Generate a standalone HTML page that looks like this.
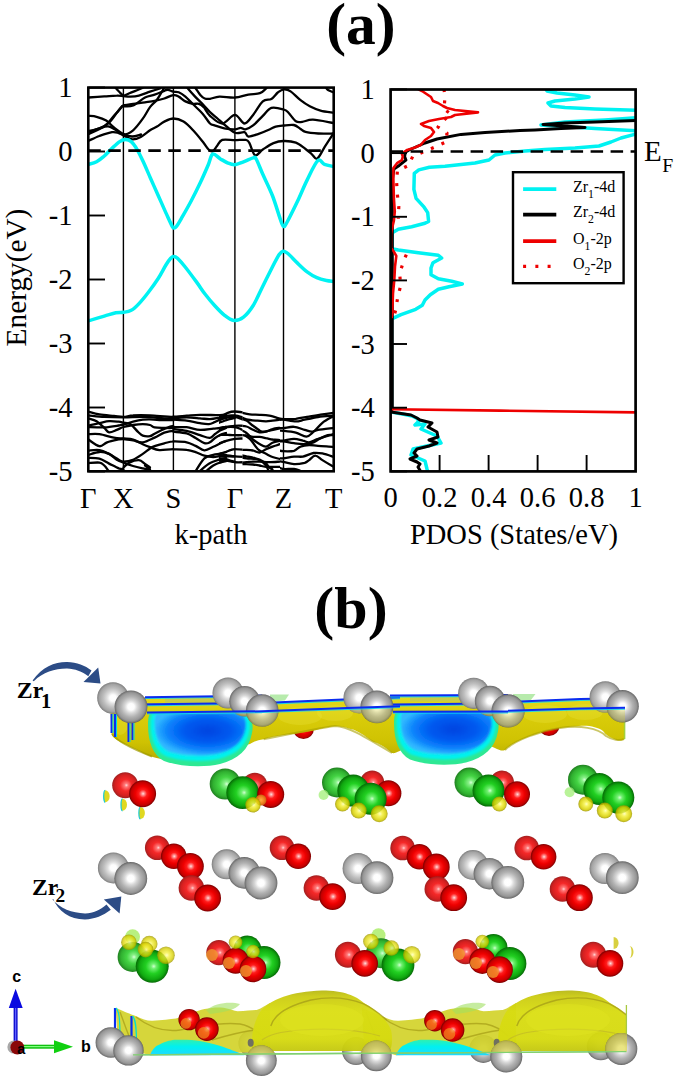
<!DOCTYPE html>
<html><head><meta charset="utf-8"><title>Figure</title>
<style>
html,body{margin:0;padding:0;background:#fff;}
body{width:675px;height:1077px;overflow:hidden;position:relative;}
svg{position:absolute;left:0;top:0;display:block;}
text{font-family:"Liberation Serif",serif;}
.sans{font-family:"Liberation Sans",sans-serif;}
</style></head><body>
<svg width="675" height="1077" viewBox="0 0 675 1077">
<text x="361" y="44" font-size="59.5" font-weight="bold" text-anchor="middle">(a)</text>
<defs><clipPath id="cl"><rect x="88.3" y="87.6" width="245.4" height="383.7"/></clipPath><clipPath id="cr"><rect x="390.6" y="89.5" width="245.0" height="381.9"/></clipPath></defs>
<g clip-path="url(#cl)" fill="none" stroke-linejoin="round" stroke-linecap="round">
<line x1="123.4" y1="87.6" x2="123.4" y2="471.3" stroke="#000" stroke-width="1.4"/><line x1="173.4" y1="87.6" x2="173.4" y2="471.3" stroke="#000" stroke-width="1.4"/><line x1="234.9" y1="87.6" x2="234.9" y2="471.3" stroke="#000" stroke-width="1.4"/><line x1="283.5" y1="87.6" x2="283.5" y2="471.3" stroke="#000" stroke-width="1.4"/><path d="M88.3,140.9 C90.2,140.1 95.5,137.4 99.4,136.0 C103.4,134.6 108.8,132.7 112.0,132.2 C115.2,131.7 116.8,132.6 118.7,133.1 C120.6,133.6 121.2,134.3 123.5,135.4 C125.8,136.5 129.3,139.1 132.2,139.4 C135.1,139.7 137.8,138.5 140.8,137.0 C143.8,135.5 147.3,132.1 150.0,130.3 C152.7,128.6 154.6,128.0 157.0,126.5 C159.4,125.0 161.6,122.9 164.3,121.6 C167.0,120.3 170.2,118.5 173.4,118.5 C176.6,118.5 180.2,119.6 183.5,121.6 C186.8,123.6 189.9,126.9 193.1,130.3 C196.3,133.7 200.2,138.6 202.8,141.8 C205.4,145.0 206.9,147.9 208.6,149.5 C210.2,151.1 211.3,151.9 212.7,151.3 C214.1,150.7 215.4,147.9 217.0,146.0 C218.6,144.1 219.3,140.9 222.3,139.9 C225.3,138.9 231.1,140.2 234.9,140.2 C238.8,140.2 243.0,139.5 245.4,139.9 C247.8,140.3 247.7,140.2 249.3,142.8 C250.9,145.4 252.8,154.2 255.1,155.3 C257.4,156.4 259.7,151.5 262.8,149.5 C265.9,147.5 270.0,144.5 273.5,143.1 C277.0,141.7 280.0,141.1 283.7,141.0 C287.4,140.9 292.3,141.3 295.9,142.6 C299.5,143.9 302.8,147.1 305.5,149.0 C308.2,150.9 309.9,152.7 311.9,154.3 C313.9,155.9 315.2,159.8 317.3,158.6 C319.4,157.4 322.0,151.2 324.7,146.9 C327.4,142.6 332.2,135.3 333.7,133.0" stroke="#000" stroke-width="2.3"/><path d="M88.3,132.2 C90.2,131.5 96.1,129.3 99.4,128.3 C102.7,127.3 105.5,126.2 108.1,126.4 C110.7,126.6 112.4,128.2 115.0,129.5 C117.6,130.8 120.5,134.4 123.5,134.5 C126.5,134.6 129.9,132.9 133.1,130.3 C136.3,127.7 140.0,122.6 142.8,118.7 C145.6,114.8 147.8,110.0 150.0,107.1 C152.2,104.1 154.3,103.0 156.0,101.0 C157.7,99.0 158.7,97.2 160.0,95.0 C161.3,92.8 163.3,89.2 164.0,88.0" stroke="#000" stroke-width="2.3"/><path d="M88.3,115.8 C89.7,116.0 93.6,116.0 96.6,116.8 C99.6,117.6 103.3,118.8 106.2,120.6 C109.1,122.4 111.0,125.2 113.9,127.4 C116.8,129.6 120.5,132.5 123.5,134.0 C126.5,135.5 129.1,136.4 132.0,136.5 C134.9,136.6 139.5,134.8 141.0,134.5" stroke="#000" stroke-width="2.3"/><path d="M88.3,131.2 C90.2,130.7 95.9,129.7 99.4,128.3 C102.9,126.9 106.2,125.2 109.1,122.6 C112.0,120.0 114.7,115.6 116.8,112.9 C118.9,110.2 120.5,108.0 121.6,106.7 C122.7,105.5 121.6,105.9 123.5,105.4 C125.4,104.9 129.5,104.3 133.1,103.8 C136.7,103.3 141.4,102.8 145.0,102.3 C148.6,101.8 151.4,101.5 154.6,100.9 C157.8,100.3 161.2,99.5 164.3,98.5 C167.4,97.5 171.0,95.4 173.4,95.1 C175.8,94.8 176.7,95.5 178.7,96.6 C180.7,97.6 183.0,100.2 185.4,101.4 C187.8,102.6 190.8,103.4 193.1,103.8 C195.3,104.2 197.1,103.2 198.9,103.8 C200.7,104.3 201.8,105.1 203.7,107.1 C205.5,109.1 206.9,113.1 210.0,115.8 C213.1,118.5 218.2,123.7 222.3,123.5 C226.5,123.3 231.2,114.9 234.9,114.9 C238.6,114.9 241.5,123.5 244.5,123.5 C247.5,123.5 250.0,118.6 253.1,114.9 C256.1,111.2 259.8,104.1 262.8,101.4 C265.9,98.7 268.9,100.4 271.4,98.9 C273.9,97.4 275.8,94.1 277.8,92.5 C279.9,90.9 281.6,89.5 283.7,89.3 C285.8,89.1 287.9,89.6 290.6,91.4 C293.4,93.2 297.0,97.4 300.2,99.9 C303.4,102.4 306.4,104.5 309.8,106.3 C313.2,108.1 316.5,109.5 320.5,110.6 C324.5,111.7 331.5,112.5 333.7,112.9" stroke="#000" stroke-width="2.3"/><path d="M88.3,134.1 C91.0,132.8 100.0,129.5 104.3,126.4 C108.6,123.4 111.0,119.0 113.9,115.8 C116.8,112.6 120.0,108.7 121.6,107.1 C123.2,105.5 121.6,106.7 123.5,106.4 C125.4,106.1 129.5,107.0 133.1,105.5 C136.7,104.0 141.4,99.3 145.0,97.5 C148.6,95.7 151.4,95.7 154.6,94.6 C157.8,93.5 162.1,91.6 164.3,90.8 C166.6,90.0 166.6,89.6 168.1,89.8 C169.6,90.0 171.6,91.3 173.4,91.7 C175.2,92.1 176.7,91.4 178.7,92.2 C180.7,93.0 183.0,94.6 185.4,96.6 C187.8,98.6 190.2,101.4 193.1,104.3 C196.0,107.2 200.0,110.7 202.8,113.9 C205.6,117.1 208.0,121.6 210.0,123.5 C212.0,125.4 212.2,124.6 214.6,125.4 C217.0,126.2 220.9,127.7 224.3,128.3 C227.7,129.0 232.2,129.4 234.9,129.3 C237.6,129.2 238.8,127.9 240.6,127.9 C242.3,127.9 243.3,129.7 245.4,129.3 C247.5,128.9 250.2,127.7 253.1,125.4 C256.0,123.2 259.8,118.7 262.8,115.8 C265.9,112.9 267.9,109.0 271.4,107.9 C274.9,106.9 280.8,108.7 283.7,109.5 C286.6,110.3 286.5,110.7 288.5,112.7 C290.5,114.7 293.6,119.8 295.9,121.3 C298.2,122.8 299.4,122.1 302.3,121.8 C305.2,121.5 307.8,119.5 313.0,119.7 C318.2,119.9 330.2,122.5 333.7,123.0" stroke="#000" stroke-width="2.3"/><path d="M88.3,97.5 C91.0,97.3 99.5,96.7 104.3,96.4 C109.0,96.1 113.6,95.6 116.8,95.6 C120.0,95.5 121.2,95.9 123.5,96.1 C125.8,96.3 127.7,96.7 130.3,96.6 C132.9,96.5 135.6,96.4 138.9,95.6 C142.2,94.8 146.5,92.9 150.0,91.7 C153.5,90.5 158.3,89.0 160.0,88.5" stroke="#000" stroke-width="2.3"/><path d="M114.0,86.0 C114.8,86.8 116.9,89.4 118.5,91.0 C120.1,92.6 121.6,95.2 123.5,95.5 C125.4,95.8 127.2,94.1 130.0,93.0 C132.8,91.9 137.3,90.2 140.0,89.0 C142.7,87.8 145.0,86.5 146.0,86.0" stroke="#000" stroke-width="2.3"/><path d="M186.0,86.0 C186.4,86.5 186.8,87.1 188.3,88.9 C189.8,90.7 192.7,94.0 195.1,96.6 C197.5,99.2 200.3,101.7 202.8,104.3 C205.3,106.9 207.6,109.6 210.0,112.0 C212.4,114.4 215.1,116.4 217.5,118.5 C219.9,120.6 221.4,122.1 224.3,124.5 C227.2,126.9 231.5,131.4 234.9,132.7 C238.3,134.0 242.3,131.6 244.5,132.2 C246.7,132.8 246.1,136.2 248.3,136.5 C250.6,136.8 254.4,135.3 258.0,134.1 C261.6,132.9 267.1,130.6 270.0,129.3 C272.9,128.1 273.4,127.2 275.7,126.6 C278.0,126.0 280.7,125.8 283.7,125.5 C286.7,125.2 291.1,124.5 293.8,125.0 C296.6,125.5 298.2,127.5 300.2,128.7 C302.1,129.8 302.5,131.1 305.5,131.9 C308.5,132.7 313.6,133.2 318.3,133.5 C323.0,133.8 331.1,133.5 333.7,133.5" stroke="#000" stroke-width="2.3"/><path d="M194.0,86.0 C194.3,86.5 194.9,87.3 196.0,88.9 C197.1,90.5 199.4,94.0 200.8,95.6 C202.2,97.2 203.2,98.0 204.7,98.5 C206.2,99.0 207.6,99.1 210.0,98.8 C212.4,98.5 215.2,96.8 219.4,96.6 C223.6,96.4 230.1,97.8 234.9,97.5 C239.7,97.2 244.1,95.3 248.3,94.6 C252.5,93.9 257.0,94.2 259.9,93.2 C262.8,92.2 264.3,90.1 265.7,88.9 C267.1,87.7 267.6,86.5 268.0,86.0" stroke="#000" stroke-width="2.3"/><path d="M326.0,87.5 C326.3,87.9 326.7,89.2 328.0,90.0 C329.3,90.8 332.8,92.1 333.7,92.5" stroke="#000" stroke-width="2.3"/><path d="M170.0,86.0 C170.6,86.2 172.4,87.5 173.4,87.5 C174.4,87.5 175.6,86.2 176.0,86.0" stroke="#000" stroke-width="2.3"/>
<defs><clipPath id="clL"><rect x="80" y="80" width="94.2" height="400"/></clipPath><clipPath id="clR"><rect x="219" y="80" width="200" height="400"/></clipPath></defs><g clip-path="url(#clL)"><path d="M88.3,411.6 C90.2,412.1 95.1,413.7 99.4,414.4 C103.7,415.1 109.9,415.5 113.9,415.9 C117.9,416.3 120.3,417.0 123.5,416.9 C126.7,416.8 128.7,415.6 133.1,415.4 C137.5,415.1 143.3,415.1 150.0,415.4 C156.7,415.6 166.2,416.9 173.4,416.9 C180.6,416.9 187.0,415.6 193.1,415.4 C199.2,415.1 205.6,415.3 210.0,415.4 C214.4,415.5 216.6,416.4 219.4,415.9 C222.2,415.4 224.5,413.3 227.1,412.5 C229.7,411.7 232.2,411.1 234.9,411.1 C237.6,411.1 240.5,412.0 243.5,412.5 C246.5,413.0 249.5,413.4 253.1,414.0 C256.7,414.6 261.2,415.4 265.0,416.0 C268.8,416.6 272.6,417.1 275.7,417.6 C278.8,418.1 281.0,419.0 283.7,419.2 C286.4,419.4 287.7,419.2 291.7,418.7 C295.7,418.2 303.3,416.7 307.7,416.0 C312.1,415.3 314.0,414.8 318.3,414.4 C322.6,413.9 331.1,413.5 333.7,413.3" stroke="#000" stroke-width="2.3"/><path d="M88.3,415.4 C91.0,415.6 98.4,416.6 104.3,416.9 C110.2,417.2 116.7,417.3 123.5,417.3 C130.3,417.3 138.2,416.7 145.0,416.9 C151.8,417.1 159.6,418.1 164.3,418.3 C169.0,418.5 169.4,417.9 173.4,417.8 C177.4,417.7 182.2,417.9 188.3,417.8 C194.4,417.7 204.0,417.3 210.0,417.3 C216.0,417.3 220.2,418.0 224.3,417.8 C228.5,417.6 231.7,416.0 234.9,415.9 C238.1,415.8 240.5,416.5 243.5,417.3 C246.5,418.1 249.5,419.9 253.1,420.7 C256.7,421.5 261.2,421.7 265.0,421.9 C268.8,422.1 272.6,422.3 275.7,421.9 C278.8,421.5 280.3,419.7 283.7,419.7 C287.1,419.7 291.9,422.1 295.9,421.9 C299.9,421.7 304.0,419.5 307.7,418.7 C311.4,417.9 314.0,417.6 318.3,417.1 C322.6,416.7 331.1,416.2 333.7,416.0" stroke="#000" stroke-width="2.3"/><path d="M88.3,418.3 C89.7,418.8 93.9,419.6 96.6,421.2 C99.3,422.8 102.2,426.0 104.3,427.9 C106.4,429.8 107.0,432.0 109.1,432.3 C111.2,432.6 114.4,430.8 116.8,429.9 C119.2,429.0 120.8,427.8 123.5,427.0 C126.2,426.2 129.9,425.5 133.1,425.0 C136.3,424.5 140.0,424.1 142.8,424.1 C145.6,424.1 148.0,424.4 150.0,425.0 C152.0,425.6 152.2,426.9 154.6,427.4 C157.0,427.9 161.2,427.8 164.3,427.9 C167.4,428.0 170.2,428.2 173.4,427.9 C176.6,427.6 179.4,426.6 183.5,426.0 C187.6,425.4 193.6,424.6 198.0,424.1 C202.4,423.6 207.2,423.6 210.0,423.1 C212.8,422.6 212.2,422.1 214.6,421.2 C217.0,420.3 220.9,418.7 224.3,417.8 C227.7,416.9 231.7,415.6 234.9,415.9 C238.1,416.1 240.5,417.6 243.5,419.3 C246.5,421.0 250.2,423.9 253.1,426.0 C256.0,428.1 258.0,431.0 260.8,431.8 C263.6,432.6 267.5,431.1 270.0,430.8 C272.5,430.5 273.4,430.0 275.7,429.9 C278.0,429.8 280.1,430.0 283.7,430.4 C287.2,430.8 293.0,431.0 297.0,432.0 C301.0,433.0 304.1,437.0 307.7,436.3 C311.2,435.6 314.0,430.7 318.3,427.7 C322.6,424.7 331.1,419.7 333.7,418.1" stroke="#000" stroke-width="2.3"/><path d="M88.3,425.5 C90.2,425.1 95.9,423.8 99.4,423.1 C102.9,422.4 105.9,421.4 109.1,421.2 C112.3,421.0 116.3,421.5 118.7,421.7 C121.1,421.9 121.6,422.2 123.5,422.6 C125.4,423.0 127.9,422.6 130.3,424.1 C132.7,425.6 135.9,429.9 138.0,431.8 C140.1,433.7 140.8,434.9 142.8,435.6 C144.8,436.3 148.0,436.4 150.0,436.1 C152.0,435.8 152.2,434.9 154.6,433.7 C157.0,432.5 161.2,430.2 164.3,428.9 C167.4,427.6 170.2,426.2 173.4,426.0 C176.6,425.8 180.2,427.4 183.5,427.9 C186.8,428.4 189.9,428.6 193.1,428.9 C196.3,429.2 199.2,430.1 202.8,429.9 C206.4,429.7 211.0,428.5 214.6,427.9 C218.2,427.3 220.9,426.8 224.3,426.5 C227.7,426.2 231.4,426.0 234.9,426.0 C238.4,426.0 242.4,426.0 245.4,426.5 C248.4,427.0 250.2,428.1 253.1,428.9 C256.0,429.7 260.0,430.8 262.8,431.3 C265.6,431.8 267.9,432.2 270.0,431.8 C272.1,431.4 273.4,429.4 275.7,428.8 C278.0,428.2 280.7,428.6 283.7,428.3 C286.7,428.0 290.7,427.0 293.8,427.2 C296.9,427.4 299.5,428.5 302.3,429.3 C305.1,430.1 307.3,431.9 310.9,432.0 C314.5,432.1 319.9,430.5 323.7,429.9 C327.5,429.3 332.0,428.6 333.7,428.3" stroke="#000" stroke-width="2.3"/><path d="M88.3,427.0 C91.0,427.1 99.2,427.6 104.3,427.4 C109.4,427.1 115.5,426.0 118.7,425.5 C121.9,425.0 121.1,425.2 123.5,424.6 C125.9,424.0 129.9,422.5 133.1,421.7 C136.3,420.9 140.0,420.1 142.8,419.7 C145.6,419.3 147.2,419.2 150.0,419.3 C152.8,419.4 155.5,420.1 159.4,420.2 C163.3,420.3 168.6,419.9 173.4,420.2 C178.2,420.4 183.4,421.2 188.3,421.7 C193.2,422.2 198.4,423.2 202.8,423.1 C207.2,423.0 212.6,421.5 214.6,421.2" stroke="#000" stroke-width="2.3"/><path d="M88.3,434.2 C90.2,434.2 95.1,433.6 99.4,434.2 C103.7,434.8 109.9,436.9 113.9,437.6 C117.9,438.3 120.3,438.2 123.5,438.5 C126.7,438.8 129.9,438.5 133.1,439.5 C136.3,440.5 140.0,443.0 142.8,444.3 C145.6,445.6 147.2,446.2 150.0,447.2 C152.8,448.2 155.5,449.8 159.4,450.1 C163.3,450.4 168.6,449.1 173.4,449.1 C178.2,449.1 184.2,449.5 188.3,450.1 C192.4,450.8 194.4,451.7 198.0,453.0 C201.6,454.3 206.4,457.7 210.0,457.8 C213.6,457.9 215.2,455.2 219.4,453.9 C223.6,452.6 230.1,450.7 234.9,450.1 C239.7,449.5 243.7,449.8 248.3,450.1 C253.0,450.4 259.2,451.6 262.8,452.0 C266.4,452.4 268.8,452.4 270.0,452.5" stroke="#000" stroke-width="2.3"/><path d="M88.3,439.5 C90.2,440.6 96.3,445.7 99.4,446.2 C102.5,446.7 103.9,443.5 107.1,442.4 C110.3,441.3 116.0,440.1 118.7,439.5 C121.4,438.9 121.1,438.9 123.5,439.0 C125.9,439.1 129.9,439.8 133.1,440.4 C136.3,441.0 139.2,442.9 142.8,442.4 C146.4,441.9 151.0,439.2 154.6,437.6 C158.2,436.0 161.2,433.8 164.3,432.7 C167.4,431.6 170.2,430.8 173.4,430.8 C176.6,430.8 180.2,431.7 183.5,432.7 C186.8,433.7 189.9,435.0 193.1,436.6 C196.3,438.2 199.2,442.1 202.8,442.4 C206.4,442.7 211.0,439.6 214.6,438.5 C218.2,437.4 220.9,436.2 224.3,435.6 C227.7,435.0 231.4,434.8 234.9,434.7 C238.4,434.6 241.6,434.6 245.4,435.1 C249.2,435.6 254.7,437.1 258.0,437.6 C261.3,438.2 262.1,438.1 265.0,438.4 C267.9,438.7 272.6,439.1 275.7,439.5 C278.8,439.9 280.5,440.5 283.7,440.5 C286.9,440.5 291.3,439.3 294.9,439.5 C298.5,439.7 301.9,440.9 305.5,441.6 C309.1,442.3 311.5,444.9 316.2,443.7 C320.9,442.4 330.8,435.7 333.7,434.1" stroke="#000" stroke-width="2.3"/><path d="M88.3,450.6 C90.2,450.5 95.9,449.5 99.4,450.1 C102.9,450.7 105.9,452.4 109.1,454.0 C112.3,455.6 116.3,458.4 118.7,459.7 C121.1,461.0 121.1,461.6 123.5,461.6 C125.9,461.6 129.9,461.0 133.1,459.7 C136.3,458.4 140.0,455.8 142.8,453.9 C145.6,452.0 148.0,449.8 150.0,448.5 C152.0,447.2 152.2,447.1 154.6,446.2 C157.0,445.3 161.2,444.1 164.3,443.3 C167.4,442.5 170.2,441.5 173.4,441.4 C176.6,441.2 180.2,441.6 183.5,442.4 C186.8,443.2 189.9,444.9 193.1,446.2 C196.3,447.5 200.0,449.8 202.8,450.1 C205.6,450.4 207.2,449.1 210.0,448.1 C212.8,447.1 215.2,445.7 219.4,444.3 C223.6,442.9 230.6,440.3 234.9,439.5 C239.2,438.7 242.4,438.7 245.4,439.5 C248.4,440.3 250.5,442.4 253.1,444.3 C255.7,446.2 258.8,449.3 260.8,451.0 C262.8,452.7 262.5,453.2 265.0,454.4 C267.5,455.6 272.6,457.3 275.7,458.1 C278.8,458.9 280.7,459.3 283.7,459.2 C286.7,459.1 289.8,458.4 293.8,457.6 C297.8,456.8 303.6,455.3 307.7,454.4 C311.8,453.5 314.0,451.9 318.3,452.3 C322.6,452.7 331.1,455.8 333.7,456.5" stroke="#000" stroke-width="2.3"/><path d="M88.3,454.9 C90.2,454.4 95.9,452.2 99.4,452.0 C102.9,451.8 106.2,452.6 109.1,453.9 C112.0,455.2 114.4,458.2 116.8,459.7 C119.2,461.1 120.8,461.6 123.5,462.6 C126.2,463.7 129.8,465.0 133.0,466.0 C136.2,467.0 140.0,467.8 142.8,468.4 C145.6,469.0 148.8,469.3 150.0,469.5" stroke="#000" stroke-width="2.3"/><path d="M88.3,457.8 C90.2,457.9 95.9,457.7 99.4,458.7 C102.9,459.7 105.9,462.0 109.1,463.6 C112.3,465.2 116.3,467.4 118.7,468.4 C121.1,469.3 122.7,469.1 123.5,469.3" stroke="#000" stroke-width="2.3"/><path d="M88.3,463.1 C90.2,463.0 96.7,462.2 99.4,462.6 C102.1,463.0 102.8,464.2 104.3,465.5 C105.8,466.8 107.5,469.5 108.1,470.3" stroke="#000" stroke-width="2.3"/><path d="M123.5,467.4 C124.5,466.6 126.7,463.8 129.3,462.6 C131.9,461.4 136.3,460.0 138.9,460.2 C141.5,460.4 143.2,462.8 145.0,464.0 C146.8,465.2 149.2,466.8 150.0,467.4" stroke="#000" stroke-width="2.3"/><path d="M196.0,470.3 C197.1,468.4 199.7,461.3 202.8,458.7 C205.9,456.1 209.2,455.4 214.6,454.9 C219.9,454.3 228.5,454.9 234.9,455.4 C241.3,455.9 248.4,456.6 253.1,457.8 C257.8,459.0 260.0,461.2 262.8,462.6 C265.6,464.0 268.8,465.8 270.0,466.4" stroke="#000" stroke-width="2.3"/><path d="M200.8,470.3 C201.9,469.5 205.3,466.6 207.6,465.5 C209.9,464.4 211.8,464.2 214.6,463.6 C217.4,463.0 220.9,461.8 224.3,461.6 C227.7,461.4 230.9,462.4 234.9,462.6 C238.9,462.8 243.7,462.8 248.3,462.6 C253.0,462.4 259.2,461.8 262.8,461.6 C266.4,461.4 266.5,461.5 270.0,461.6 C273.5,461.7 279.7,462.0 283.7,462.4 C287.7,462.8 289.8,464.0 293.8,464.0 C297.8,464.0 304.1,463.9 307.7,462.4 C311.2,460.9 312.6,455.2 315.1,454.9 C317.6,454.5 319.5,458.4 322.6,460.3 C325.7,462.2 331.9,465.1 333.7,466.1" stroke="#000" stroke-width="2.3"/><path d="M205.0,467.4 C206.6,465.8 211.4,459.4 214.6,457.8 C217.8,456.2 220.9,458.0 224.3,457.8 C227.7,457.6 231.4,457.0 234.9,456.8 C238.4,456.6 241.6,456.3 245.4,456.8 C249.2,457.3 254.7,459.0 258.0,459.7 C261.3,460.4 263.8,460.6 265.0,460.8" stroke="#000" stroke-width="2.3"/><path d="M243.5,419.3 C244.6,422.2 248.2,432.4 250.3,436.6 C252.4,440.8 253.9,442.2 256.0,444.3 C258.1,446.4 261.3,448.7 262.8,449.1 C264.3,449.5 262.9,448.0 265.0,446.9 C267.1,445.8 272.6,443.8 275.7,442.7 C278.8,441.6 280.1,440.9 283.7,440.5 C287.2,440.1 292.6,440.1 297.0,440.5 C301.4,440.9 306.6,442.0 309.8,442.7 C313.0,443.4 312.2,445.9 316.2,444.8 C320.2,443.7 330.8,437.7 333.7,436.3" stroke="#000" stroke-width="2.3"/><path d="M265.0,444.8 C266.8,445.5 272.6,448.1 275.7,449.1 C278.8,450.1 280.7,450.5 283.7,450.7 C286.7,450.9 291.1,450.9 293.8,450.1 C296.6,449.3 297.0,446.6 300.2,445.9 C303.4,445.2 307.4,445.7 313.0,445.9 C318.6,446.1 330.2,446.7 333.7,446.9" stroke="#000" stroke-width="2.3"/><path d="M265.0,468.3 C268.1,468.1 278.7,467.2 283.7,467.2 C288.7,467.2 292.3,467.8 294.9,468.3 C297.5,468.8 298.4,470.0 299.1,470.4" stroke="#000" stroke-width="2.3"/><path d="M145.0,465.5 C145.8,466.1 149.0,468.7 149.8,469.3" stroke="#000" stroke-width="2.3"/></g><path d="M173.4,416.6 C175.6,416.5 182.3,416.0 186.7,415.7 C191.1,415.4 194.4,414.9 200.0,414.8 C205.6,414.7 215.7,415.3 220.0,415.2 C224.3,415.1 225.0,414.2 226.0,414.0" stroke="#000" stroke-width="2.3"/><path d="M173.4,418.3 C175.6,418.1 182.3,417.4 186.7,417.4 C191.1,417.4 196.2,418.0 200.0,418.3 C203.8,418.6 206.5,419.3 209.8,419.2 C213.1,419.1 217.3,418.1 220.0,417.6 C222.7,417.2 225.0,416.7 226.0,416.5" stroke="#000" stroke-width="2.3"/><path d="M173.4,419.7 C175.6,419.9 182.3,420.0 186.7,420.6 C191.1,421.2 196.3,422.6 200.0,423.2 C203.7,423.8 206.4,424.3 208.9,424.1 C211.4,423.9 213.2,422.6 215.1,421.9 C216.9,421.1 218.2,420.2 220.0,419.6 C221.8,419.0 225.0,418.3 226.0,418.0" stroke="#000" stroke-width="2.3"/><path d="M173.4,427.2 C175.6,427.2 182.3,426.8 186.7,427.2 C191.1,427.6 195.6,429.7 200.0,429.9 C204.4,430.1 210.0,428.9 213.3,428.6 C216.6,428.3 217.9,428.3 220.0,428.0 C222.1,427.7 225.0,427.2 226.0,427.0" stroke="#000" stroke-width="2.3"/><path d="M173.4,429.0 C175.6,429.3 182.3,429.8 186.7,430.8 C191.1,431.8 196.2,434.0 200.0,435.2 C203.8,436.4 207.3,438.1 209.8,437.9 C212.3,437.7 213.3,435.2 215.0,434.0 C216.7,432.8 218.2,431.5 220.0,430.5 C221.8,429.5 225.0,428.4 226.0,428.0" stroke="#000" stroke-width="2.3"/><path d="M173.4,431.7 C175.6,432.0 183.0,432.4 186.7,433.4 C190.4,434.4 192.6,436.3 195.6,437.9 C198.6,439.5 202.0,442.5 204.4,443.2 C206.8,443.9 208.0,443.2 209.8,442.3 C211.6,441.4 213.3,439.2 215.0,438.0 C216.7,436.8 218.2,435.8 220.0,435.0 C221.8,434.2 225.0,433.3 226.0,433.0" stroke="#000" stroke-width="2.3"/><path d="M173.4,441.4 C175.6,441.5 183.0,441.6 186.7,442.3 C190.4,443.1 192.6,444.6 195.6,445.9 C198.6,447.2 201.4,450.1 204.4,450.3 C207.4,450.5 210.7,447.9 213.3,446.8 C215.9,445.7 217.9,444.5 220.0,443.5 C222.1,442.5 225.0,441.4 226.0,441.0" stroke="#000" stroke-width="2.3"/><path d="M173.4,449.4 C175.6,449.5 183.0,449.4 186.7,449.9 C190.4,450.3 192.6,451.1 195.6,452.1 C198.6,453.1 201.4,454.9 204.4,455.7 C207.4,456.5 210.7,457.1 213.3,457.2 C215.9,457.2 217.9,456.4 220.0,456.0 C222.1,455.6 225.0,455.2 226.0,455.0" stroke="#000" stroke-width="2.3"/><path d="M195.6,471.0 C197.1,468.9 201.4,461.0 204.4,458.3 C207.4,455.6 210.7,455.6 213.3,454.8 C215.9,454.0 217.9,454.1 220.0,453.6 C222.1,453.1 225.0,452.3 226.0,452.0" stroke="#000" stroke-width="2.3"/><path d="M200.0,471.0 C201.5,469.8 205.6,465.6 208.9,463.7 C212.2,461.8 217.2,460.3 220.0,459.4 C222.8,458.4 225.0,458.2 226.0,458.0" stroke="#000" stroke-width="2.3"/><path d="M206.2,471.0 C207.4,470.1 211.0,466.8 213.3,465.4 C215.6,464.0 217.9,463.2 220.0,462.5 C222.1,461.8 225.0,461.2 226.0,461.0" stroke="#000" stroke-width="2.3"/><defs><clipPath id="clA"><rect x="219" y="80" width="23.5" height="400"/></clipPath><clipPath id="clB"><rect x="242.5" y="80" width="37.5" height="400"/></clipPath><clipPath id="clC"><rect x="280" y="80" width="60" height="400"/></clipPath></defs><g clip-path="url(#clA)"><path d="M205.0,415.4 C206.6,415.5 212.0,415.6 214.8,415.7 C217.5,415.9 219.1,416.9 221.3,416.4 C223.4,415.9 225.5,413.6 227.8,412.8 C230.0,412.0 231.7,411.5 234.6,411.5 C237.5,411.5 243.3,412.6 245.0,412.8" stroke="#000" stroke-width="2.3"/><path d="M205.0,420.6 C206.1,420.8 209.3,422.2 211.5,421.9 C213.7,421.6 215.8,419.6 218.0,418.7 C220.2,417.7 221.7,416.6 224.5,416.1 C227.3,415.5 231.2,415.1 234.6,415.4 C238.0,415.7 243.3,417.6 245.0,418.0" stroke="#000" stroke-width="2.3"/><path d="M205.0,423.9 C206.1,423.8 209.3,423.8 211.5,423.2 C213.7,422.7 215.8,421.5 218.0,420.6 C220.2,419.7 221.7,418.6 224.5,418.0 C227.3,417.4 231.9,416.9 234.6,417.0 C237.3,417.1 239.0,418.0 240.8,418.7 C242.5,419.4 244.3,420.8 245.0,421.3" stroke="#000" stroke-width="2.3"/><path d="M205.0,425.8 C206.1,425.7 208.8,425.8 211.5,425.2 C214.2,424.5 218.6,422.8 221.3,421.9 C224.0,421.0 225.5,420.3 227.8,419.6 C230.0,419.0 233.5,418.3 234.6,418.0" stroke="#000" stroke-width="2.3"/><path d="M205.0,429.7 C206.1,429.5 209.3,428.6 211.5,428.4 C213.7,428.3 215.8,429.0 218.0,428.7 C220.2,428.5 221.7,427.6 224.5,427.1 C227.3,426.6 231.2,426.0 234.6,425.8 C238.0,425.6 243.3,425.8 245.0,425.8" stroke="#000" stroke-width="2.3"/><path d="M205.0,436.9 C206.1,437.0 209.3,438.6 211.5,437.5 C213.7,436.4 215.8,432.0 218.0,430.4 C220.2,428.7 221.7,428.0 224.5,427.4 C227.3,426.9 231.9,426.8 234.6,427.1 C237.3,427.4 239.0,428.3 240.8,429.1 C242.5,429.8 244.3,431.2 245.0,431.7" stroke="#000" stroke-width="2.3"/><path d="M205.0,444.0 C205.9,443.7 208.6,443.2 210.2,442.1 C211.8,441.0 212.9,438.7 214.8,437.5 C216.6,436.3 219.1,435.4 221.3,434.9 C223.4,434.5 225.5,434.9 227.8,434.9 C230.0,435.0 231.7,435.2 234.6,435.2 C237.5,435.3 243.3,435.2 245.0,435.2" stroke="#000" stroke-width="2.3"/><path d="M205.0,450.5 C206.6,449.7 211.5,446.8 214.8,445.3 C218.0,443.8 221.2,442.5 224.5,441.4 C227.8,440.3 231.2,439.3 234.6,438.8 C238.0,438.3 243.3,438.6 245.0,438.5" stroke="#000" stroke-width="2.3"/><path d="M205.0,456.4 C206.1,456.1 209.3,454.8 211.5,454.4 C213.7,454.1 215.8,454.8 218.0,454.4 C220.2,454.1 222.3,453.2 224.5,452.5 C226.7,451.7 229.3,450.4 231.0,449.9 C232.7,449.3 232.3,449.2 234.6,449.2 C236.9,449.2 243.3,449.8 245.0,449.9" stroke="#000" stroke-width="2.3"/><path d="M205.0,459.0 C206.1,458.6 209.3,456.9 211.5,456.4 C213.7,455.8 215.8,455.9 218.0,455.7 C220.2,455.5 221.7,455.0 224.5,455.1 C227.3,455.2 231.2,456.1 234.6,456.4 C238.0,456.7 243.3,456.9 245.0,457.0" stroke="#000" stroke-width="2.3"/><path d="M205.0,461.6 C206.1,461.2 209.3,459.7 211.5,459.0 C213.7,458.2 215.8,457.5 218.0,457.0 C220.2,456.6 221.7,456.5 224.5,456.4 C227.3,456.3 232.9,456.4 234.6,456.4" stroke="#000" stroke-width="2.3"/><path d="M205.0,465.5 C206.1,464.9 209.3,463.3 211.5,462.2 C213.7,461.2 215.8,459.3 218.0,459.0 C220.2,458.7 221.7,459.7 224.5,460.3 C227.3,460.8 231.2,461.9 234.6,462.2 C238.0,462.6 243.3,462.2 245.0,462.2" stroke="#000" stroke-width="2.3"/><path d="M205.0,467.4 C206.1,466.8 209.3,464.6 211.5,463.5 C213.7,462.5 215.8,461.7 218.0,460.9 C220.2,460.2 222.3,459.0 224.5,459.0 C226.7,459.0 229.3,460.5 231.0,460.9 C232.7,461.4 234.0,461.5 234.6,461.6" stroke="#000" stroke-width="2.3"/><path d="M205.0,469.4 C205.7,468.8 207.3,467.1 208.9,466.1 C210.5,465.2 212.7,464.2 214.8,463.5 C216.8,462.9 220.2,462.5 221.3,462.2" stroke="#000" stroke-width="2.3"/></g><g clip-path="url(#clB)"><path d="M240.0,412.2 C241.6,412.5 246.5,414.0 249.8,414.4 C253.0,414.9 256.3,414.5 259.5,414.8 C262.8,415.0 265.9,415.1 269.3,415.7 C272.7,416.4 278.2,418.2 280.0,418.7" stroke="#000" stroke-width="2.3"/><path d="M240.0,416.7 C241.1,417.1 243.8,418.7 246.5,419.3 C249.2,420.0 253.0,420.3 256.3,420.6 C259.5,420.9 263.3,421.3 266.0,421.3 C268.7,421.3 270.2,420.9 272.5,420.6 C274.9,420.3 278.8,419.8 280.0,419.6" stroke="#000" stroke-width="2.3"/><path d="M240.0,418.0 C241.1,418.4 244.3,419.3 246.5,420.6 C248.7,421.9 250.8,424.2 253.0,425.8 C255.2,427.4 257.9,429.4 259.5,430.4 C261.1,431.3 261.1,431.6 262.8,431.7 C264.4,431.7 266.4,431.2 269.3,430.7 C272.1,430.1 278.2,428.8 280.0,428.4" stroke="#000" stroke-width="2.3"/><path d="M240.0,425.8 C241.1,425.9 244.3,425.8 246.5,426.5 C248.7,427.1 250.8,428.7 253.0,429.7 C255.2,430.7 257.3,432.0 259.5,432.3 C261.7,432.6 263.8,432.2 266.0,431.7 C268.2,431.1 270.2,429.7 272.5,429.1 C274.9,428.4 278.8,428.0 280.0,427.8" stroke="#000" stroke-width="2.3"/><path d="M240.0,429.7 C241.1,430.3 244.3,431.3 246.5,433.0 C248.7,434.6 250.8,437.6 253.0,439.5 C255.2,441.3 257.3,442.8 259.5,444.0 C261.7,445.2 263.8,446.8 266.0,446.6 C268.2,446.4 270.2,443.7 272.5,442.7 C274.9,441.7 278.8,441.1 280.0,440.8" stroke="#000" stroke-width="2.3"/><path d="M240.0,434.9 C241.1,435.0 244.3,435.2 246.5,435.6 C248.7,435.9 250.8,436.7 253.0,436.9 C255.2,437.1 257.3,436.7 259.5,436.9 C261.7,437.1 263.8,437.7 266.0,438.2 C268.2,438.6 270.2,439.1 272.5,439.5 C274.9,439.8 278.8,440.0 280.0,440.1" stroke="#000" stroke-width="2.3"/><path d="M245.2,435.6 C246.0,436.1 248.5,437.6 249.8,438.8 C251.1,440.0 251.9,441.3 253.0,442.7 C254.1,444.1 255.2,446.0 256.3,447.3 C257.3,448.6 257.9,449.4 259.5,450.5 C261.1,451.6 263.8,452.7 266.0,453.8 C268.2,454.9 270.2,456.2 272.5,457.0 C274.9,457.9 278.8,458.7 280.0,459.0" stroke="#000" stroke-width="2.3"/><path d="M240.0,449.9 C241.1,449.9 244.3,449.8 246.5,449.9 C248.7,450.0 250.8,450.1 253.0,450.5 C255.2,451.0 257.3,452.7 259.5,452.5 C261.7,452.3 263.8,450.2 266.0,449.2 C268.2,448.3 270.2,447.5 272.5,446.6 C274.9,445.8 278.8,444.5 280.0,444.0" stroke="#000" stroke-width="2.3"/><path d="M240.0,455.1 C241.1,455.3 244.3,455.9 246.5,456.4 C248.7,456.8 250.8,457.1 253.0,457.7 C255.2,458.2 257.3,458.7 259.5,459.6 C261.7,460.6 264.4,462.2 266.0,463.5 C267.6,464.8 268.2,466.5 269.3,467.4 C270.4,468.4 272.0,469.1 272.5,469.4" stroke="#000" stroke-width="2.3"/><path d="M240.0,457.0 C241.1,457.2 243.8,458.0 246.5,458.3 C249.2,458.7 253.6,458.3 256.3,459.0 C259.0,459.6 261.1,461.2 262.8,462.2 C264.4,463.3 265.1,464.3 266.0,465.5 C266.9,466.7 267.6,468.7 268.0,469.4" stroke="#000" stroke-width="2.3"/><path d="M240.0,462.9 C241.1,462.8 244.3,462.5 246.5,462.2 C248.7,462.0 250.8,461.7 253.0,461.6 C255.2,461.5 256.8,461.5 259.5,461.6 C262.2,461.7 265.9,462.2 269.3,462.2 C272.7,462.2 278.2,461.7 280.0,461.6" stroke="#000" stroke-width="2.3"/><path d="M240.0,464.2 C241.1,464.2 244.3,464.1 246.5,464.2 C248.7,464.2 250.8,464.3 253.0,464.5 C255.2,464.7 257.3,465.1 259.5,465.5 C261.7,465.9 262.6,466.6 266.0,466.8 C269.4,467.0 277.7,466.8 280.0,466.8" stroke="#000" stroke-width="2.3"/></g><g clip-path="url(#clC)"><path d="M278.0,418.3 C278.9,418.5 280.4,419.1 283.3,419.2 C286.3,419.3 291.5,419.2 295.8,418.8 C300.1,418.3 304.7,417.3 309.1,416.6 C313.6,415.8 318.5,414.9 322.4,414.3 C326.4,413.7 331.0,413.2 332.7,413.0" stroke="#000" stroke-width="2.3"/><path d="M278.0,420.1 C278.9,420.0 280.4,419.4 283.3,419.7 C286.3,419.9 292.2,421.4 295.8,421.4 C299.3,421.4 301.0,420.4 304.7,419.7 C308.4,418.9 313.3,417.7 318.0,417.0 C322.7,416.3 330.2,415.9 332.7,415.7" stroke="#000" stroke-width="2.3"/><path d="M278.0,428.1 C278.9,428.1 280.7,428.3 283.3,428.1 C286.0,427.9 290.4,426.5 294.0,426.8 C297.6,427.1 301.7,429.1 304.7,429.9 C307.6,430.7 309.6,431.7 311.8,431.7 C314.0,431.7 314.5,430.5 318.0,429.9 C321.5,429.3 330.2,428.4 332.7,428.1" stroke="#000" stroke-width="2.3"/><path d="M278.0,430.8 C278.9,430.8 280.4,430.5 283.3,430.8 C286.3,431.1 291.9,431.6 295.8,432.6 C299.6,433.5 303.5,436.7 306.4,436.6 C309.4,436.4 310.9,434.0 313.6,431.7 C316.2,429.4 319.3,425.3 322.4,422.8 C325.6,420.3 331.0,417.6 332.7,416.6" stroke="#000" stroke-width="2.3"/><path d="M278.0,440.6 C278.9,440.6 280.7,440.9 283.3,440.6 C286.0,440.3 290.7,438.8 294.0,438.8 C297.3,438.8 300.4,440.0 302.9,440.6 C305.4,441.1 306.6,442.6 309.1,442.3 C311.6,442.0 314.1,440.1 318.0,438.8 C321.9,437.4 330.2,435.1 332.7,434.3" stroke="#000" stroke-width="2.3"/><path d="M278.0,441.4 C278.9,441.4 280.7,441.1 283.3,441.4 C286.0,441.7 290.4,442.8 294.0,443.2 C297.6,443.7 301.4,444.3 304.7,444.1 C307.9,444.0 311.0,443.2 313.6,442.3 C316.1,441.4 317.4,440.0 319.8,438.8 C322.1,437.6 325.6,435.8 327.8,435.2 C329.9,434.6 331.9,435.2 332.7,435.2" stroke="#000" stroke-width="2.3"/><path d="M278.0,450.3 C278.9,450.5 280.7,451.1 283.3,451.2 C286.0,451.3 291.2,451.5 294.0,450.8 C296.8,450.0 297.7,447.7 300.2,446.8 C302.7,445.8 306.1,445.1 309.1,445.0 C312.1,444.9 314.1,445.6 318.0,445.9 C321.9,446.2 330.2,446.6 332.7,446.8" stroke="#000" stroke-width="2.3"/><path d="M278.0,458.3 C278.9,458.3 280.7,458.6 283.3,458.3 C286.0,458.0 290.7,456.9 294.0,456.6 C297.3,456.3 299.6,457.1 302.9,456.6 C306.1,456.0 310.3,453.5 313.6,453.0 C316.8,452.5 319.3,452.9 322.4,453.4 C325.6,454.0 331.0,456.0 332.7,456.6" stroke="#000" stroke-width="2.3"/><path d="M278.0,461.0 C278.9,461.1 280.7,461.4 283.3,461.9 C286.0,462.4 290.4,464.0 294.0,464.1 C297.6,464.3 302.1,463.4 304.7,462.8 C307.2,462.1 307.3,461.3 309.1,460.1 C310.9,458.9 313.1,455.7 315.3,455.7 C317.6,455.7 319.6,458.3 322.4,460.1 C325.3,461.9 331.0,465.3 332.7,466.3" stroke="#000" stroke-width="2.3"/><path d="M278.0,467.2 C278.9,467.5 280.7,468.7 283.3,469.0 C286.0,469.3 291.2,468.7 294.0,469.0 C296.8,469.3 299.2,470.5 300.2,470.8" stroke="#000" stroke-width="2.3"/></g>
<path d="M88.3,164.3 C89.7,163.9 93.9,163.2 96.6,161.8 C99.3,160.4 101.7,158.2 104.3,156.0 C106.9,153.8 109.4,150.7 112.0,148.3 C114.6,145.9 117.5,143.1 119.7,141.6 C122.0,140.1 123.6,139.6 125.5,139.6 C127.4,139.6 129.3,140.0 131.2,141.6 C133.1,143.2 135.1,146.1 137.0,149.3 C138.9,152.5 140.6,156.0 142.8,160.8 C145.1,165.6 147.9,172.4 150.5,178.2 C153.1,184.0 155.6,189.7 158.2,195.5 C160.8,201.3 163.7,207.9 165.9,212.9 C168.2,217.9 170.4,222.9 171.7,225.4 C173.0,227.9 172.8,227.8 173.6,227.9 C174.4,228.1 175.2,227.9 176.5,226.3 C177.8,224.8 178.9,222.8 181.3,218.6 C183.7,214.4 187.8,207.4 191.0,201.3 C194.2,195.2 197.7,188.1 200.6,182.0 C203.5,175.9 206.3,169.3 208.3,164.7 C210.3,160.0 210.7,155.1 212.7,154.1 C214.7,153.1 217.8,157.4 220.4,158.9 C223.0,160.4 225.7,162.1 228.1,163.1 C230.5,164.1 232.3,164.9 234.9,164.7 C237.5,164.5 240.4,162.9 243.5,161.8 C246.6,160.7 251.1,158.4 253.2,157.9 C255.3,157.4 254.5,156.2 256.1,158.9 C257.7,161.6 260.1,168.2 262.8,174.3 C265.5,180.4 269.5,188.1 272.4,195.5 C275.3,202.9 278.3,213.5 280.1,218.6 C281.9,223.7 282.3,225.7 283.4,226.3 C284.5,227.0 284.5,226.7 286.9,222.5 C289.2,218.3 294.1,208.4 297.5,201.3 C300.9,194.2 303.7,186.8 307.1,180.1 C310.5,173.3 314.8,163.4 317.7,160.8 C320.6,158.2 321.8,163.3 324.5,164.3 C327.2,165.3 332.2,166.2 333.7,166.6" stroke="#00f2f2" stroke-width="3.5"/><path d="M88.3,320.9 C91.0,320.1 99.7,317.5 104.3,316.1 C108.9,314.8 112.6,313.4 115.8,312.8 C119.0,312.2 120.9,312.7 123.5,312.3 C126.1,311.9 128.6,311.8 131.2,310.3 C133.8,308.9 136.1,306.7 139.0,303.6 C141.9,300.6 145.4,296.2 148.6,292.0 C151.8,287.8 155.3,283.0 158.2,278.5 C161.1,274.0 163.8,268.4 165.9,265.0 C168.0,261.6 169.4,259.7 170.7,258.3 C172.0,256.9 172.5,256.4 173.6,256.4 C174.7,256.4 175.6,256.5 177.5,258.3 C179.4,260.1 182.0,263.0 185.2,267.0 C188.4,271.0 193.5,277.9 196.8,282.4 C200.1,286.9 202.0,290.1 205.0,294.0 C208.0,297.9 211.4,302.0 214.6,305.5 C217.8,309.0 221.1,312.6 224.3,315.1 C227.5,317.6 230.7,320.2 233.9,320.5 C237.1,320.8 240.3,319.6 243.5,317.1 C246.7,314.6 250.0,310.6 253.2,305.5 C256.4,300.4 259.6,292.6 262.8,286.2 C266.0,279.8 269.7,272.3 272.4,267.0 C275.1,261.7 277.4,257.1 279.2,254.5 C281.0,251.9 281.6,251.4 283.0,251.2 C284.4,251.0 285.5,251.5 287.9,253.5 C290.3,255.5 294.3,260.1 297.5,263.1 C300.7,266.2 303.9,269.4 307.1,271.8 C310.3,274.2 313.6,276.2 316.8,277.6 C320.0,279.1 323.6,279.9 326.4,280.5 C329.2,281.1 332.5,281.2 333.7,281.4" stroke="#00f2f2" stroke-width="3.5"/><line x1="88.3" y1="150.6" x2="333.7" y2="150.6" stroke="#000" stroke-width="2.6" stroke-dasharray="12.5 7.5" stroke-dashoffset="0" stroke-linecap="butt"/></g>
<line x1="88.3" y1="87.5" x2="105" y2="87.5" stroke="#000" stroke-width="1.9"/><line x1="88.3" y1="151.5" x2="105" y2="151.5" stroke="#000" stroke-width="1.9"/><line x1="88.3" y1="215.5" x2="105" y2="215.5" stroke="#000" stroke-width="1.9"/><line x1="88.3" y1="279.5" x2="105" y2="279.5" stroke="#000" stroke-width="1.9"/><line x1="88.3" y1="343.5" x2="105" y2="343.5" stroke="#000" stroke-width="1.9"/><line x1="88.3" y1="407.5" x2="105" y2="407.5" stroke="#000" stroke-width="1.9"/><line x1="88.3" y1="471.5" x2="105" y2="471.5" stroke="#000" stroke-width="1.9"/><rect x="88.3" y="87.6" width="245.4" height="383.7" fill="none" stroke="#000" stroke-width="2.6"/>
<text x="72.5" y="97.2" font-size="28.5" text-anchor="end">1</text><text x="72.5" y="161.2" font-size="28.5" text-anchor="end">0</text><text x="72.5" y="225.2" font-size="28.5" text-anchor="end">-1</text><text x="72.5" y="289.2" font-size="28.5" text-anchor="end">-2</text><text x="72.5" y="353.2" font-size="28.5" text-anchor="end">-3</text><text x="72.5" y="417.2" font-size="28.5" text-anchor="end">-4</text><text x="72.5" y="481.2" font-size="28.5" text-anchor="end">-5</text>
<text x="88.3" y="507.5" font-size="28.5" text-anchor="middle">&#915;</text><text x="123.4" y="507.5" font-size="28.5" text-anchor="middle">X</text><text x="173.4" y="507.5" font-size="28.5" text-anchor="middle">S</text><text x="234.9" y="507.5" font-size="28.5" text-anchor="middle">&#915;</text><text x="283.5" y="507.5" font-size="28.5" text-anchor="middle">Z</text><text x="333.7" y="507.5" font-size="28.5" text-anchor="middle">T</text><text x="211" y="544" font-size="28.5" text-anchor="middle">k-path</text>
<text transform="translate(26.2,277.5) rotate(-90)" font-size="29.3" text-anchor="middle">Energy(eV)</text>
<g clip-path="url(#cr)" fill="none" stroke-linejoin="round">
<path d="M546.0,89.0 L547.0,91.0 L557.0,93.0 L575.0,95.0 L589.0,97.0 L575.0,99.0 L555.0,101.0 L548.0,103.0 L551.0,106.0 L565.0,107.6 L595.0,109.0 L640.0,110.5 L640.0,117.5 L605.0,120.0 L565.0,122.0 L541.0,125.0 L565.0,126.4 L595.0,128.4 L640.0,131.0 L640.0,133.0 L621.0,138.0 L611.0,142.0 L599.0,146.0 L575.0,148.0 L545.0,149.6 L525.0,151.0 L505.0,153.0 L495.0,155.0 L489.0,160.0 L475.0,163.0 L445.0,166.3 L429.4,167.2 L418.8,169.9 L414.3,173.4 L413.9,189.4 L416.1,198.3 L424.1,207.2 L427.7,212.6 L428.6,221.4 L425.0,223.3 L411.7,226.7 L398.3,229.3 L392.3,232.7 L392.0,248.7 L398.3,250.0 L418.3,252.7 L438.3,255.3 L441.7,258.0 L433.0,262.7 L431.0,268.0 L431.0,274.7 L438.3,278.7 L451.7,281.3 L462.3,284.0 L449.0,286.7 L438.3,289.3 L430.3,294.7 L425.0,300.0 L422.3,305.3 L415.7,309.3 L401.0,314.7 L392.3,318.7 L391.5,320.0 L391.5,412.0 L405.0,414.5 L412.0,416.0 L417.0,418.5 L419.0,421.0 L415.0,425.0 L425.0,424.0 L421.0,429.0 L430.0,433.0 L437.0,436.0 L441.0,443.0 L427.0,446.0 L413.0,449.0 L411.0,455.0 L425.0,461.0 L427.0,469.0 L428.0,472.0" stroke="#00f2f2" stroke-width="3.5"/><path d="M640.0,120.4 L595.0,122.0 L565.0,123.0 L543.0,124.4 L585.0,127.4 L561.0,128.6 L535.0,130.0 L520.0,130.6 L485.0,132.4 L461.0,134.4 L437.0,139.0 L425.0,143.0 L409.0,150.0 L405.4,152.1 L404.6,156.6 L405.9,160.1 L399.2,165.4 L393.9,169.0 L392.3,180.0 L392.3,409.0 L391.0,412.0 L411.0,415.0 L417.0,418.0 L420.0,420.0 L432.0,423.0 L428.0,427.0 L437.0,432.0 L438.0,437.0 L429.0,440.0 L437.0,443.0 L429.0,446.0 L417.0,449.0 L414.0,453.0 L417.0,456.0 L410.0,459.0 L417.0,462.0 L420.0,464.0 L418.0,467.0 L421.0,472.0" stroke="#000" stroke-width="3"/><path d="M418.0,89.0 L422.0,91.0 L425.0,93.0 L431.0,97.0 L433.0,101.0 L438.0,103.0 L443.0,106.0 L447.0,108.0 L455.0,110.0 L478.0,112.4 L455.0,115.0 L451.0,117.0 L439.0,119.0 L429.0,121.0 L421.0,124.0 L424.0,126.0 L431.0,128.0 L434.0,132.0 L431.0,136.0 L425.0,140.0 L420.6,145.0 L414.3,147.7 L407.2,149.9 L401.9,153.9 L402.8,156.6 L401.9,160.1 L397.4,162.8 L393.4,168.1 L393.4,180.6 L393.9,198.3 L394.8,211.7 L393.9,220.6 L391.6,230.3 L391.0,234.0 L391.0,248.0 L393.7,251.3 L396.3,256.0 L395.0,266.7 L394.3,280.0 L393.0,293.3 L392.3,313.3 L391.6,318.0" stroke="#ee0000" stroke-width="2.6"/><path d="M391.2,409.2 L500.0,410.6 L640.0,412.4" stroke="#ee0000" stroke-width="2.6"/><path d="M444.0,89.0 L445.0,97.0 L444.0,109.0 L451.0,114.0 L444.0,120.0 L438.0,127.0 L447.0,133.0 L446.0,142.0 L435.0,147.0 L423.0,152.0 L412.6,156.6 L408.6,165.4 L397.4,170.8 L396.6,182.3 L397.4,194.8 L398.8,206.8 L398.3,218.8" stroke="#ee0000" stroke-width="3.2" stroke-dasharray="3 8.5"/><path d="M406.3,254.7 L403.0,262.7 L399.7,274.0 L400.7,285.6 L397.7,297.3 L395.7,310.0 L393.5,318.0" stroke="#ee0000" stroke-width="3.2" stroke-dasharray="3 8.5"/><line x1="390.6" y1="151.5" x2="635.6" y2="151.5" stroke="#000" stroke-width="2.6" stroke-dasharray="12.5 7.5" stroke-linecap="butt"/></g>
<line x1="390.6" y1="89.4" x2="407" y2="89.4" stroke="#000" stroke-width="1.9"/><line x1="390.6" y1="153.1" x2="407" y2="153.1" stroke="#000" stroke-width="1.9"/><line x1="390.6" y1="216.8" x2="407" y2="216.8" stroke="#000" stroke-width="1.9"/><line x1="390.6" y1="280.4" x2="407" y2="280.4" stroke="#000" stroke-width="1.9"/><line x1="390.6" y1="344.0" x2="407" y2="344.0" stroke="#000" stroke-width="1.9"/><line x1="390.6" y1="407.7" x2="407" y2="407.7" stroke="#000" stroke-width="1.9"/><line x1="390.6" y1="471.4" x2="407" y2="471.4" stroke="#000" stroke-width="1.9"/><line x1="439.6" y1="471.4" x2="439.6" y2="455" stroke="#000" stroke-width="1.9"/><line x1="488.6" y1="471.4" x2="488.6" y2="455" stroke="#000" stroke-width="1.9"/><line x1="537.6" y1="471.4" x2="537.6" y2="455" stroke="#000" stroke-width="1.9"/><line x1="586.6" y1="471.4" x2="586.6" y2="455" stroke="#000" stroke-width="1.9"/><rect x="390.6" y="89.5" width="245.0" height="381.9" fill="none" stroke="#000" stroke-width="2.7"/>
<text x="374.8" y="99.1" font-size="28.5" text-anchor="end">1</text><text x="374.8" y="162.8" font-size="28.5" text-anchor="end">0</text><text x="374.8" y="226.4" font-size="28.5" text-anchor="end">-1</text><text x="374.8" y="290.1" font-size="28.5" text-anchor="end">-2</text><text x="374.8" y="353.7" font-size="28.5" text-anchor="end">-3</text><text x="374.8" y="417.4" font-size="28.5" text-anchor="end">-4</text><text x="374.8" y="481.1" font-size="28.5" text-anchor="end">-5</text><text x="390.6" y="507.3" font-size="28.5" text-anchor="middle">0</text><text x="439.6" y="507.3" font-size="28.5" text-anchor="middle">0.2</text><text x="488.6" y="507.3" font-size="28.5" text-anchor="middle">0.4</text><text x="537.6" y="507.3" font-size="28.5" text-anchor="middle">0.6</text><text x="586.6" y="507.3" font-size="28.5" text-anchor="middle">0.8</text><text x="635.6" y="507.3" font-size="28.5" text-anchor="middle">1</text><text x="514" y="544.4" font-size="28.5" text-anchor="middle">PDOS (States/eV)</text>
<text x="644" y="160.6" font-size="29">E</text><text x="662.2" y="171.7" font-size="19.8">F</text>
<rect x="513" y="172.2" width="110.6" height="111" fill="#fff" stroke="#000" stroke-width="2.4"/>
<line x1="523.1" y1="189.2" x2="556.3" y2="189.2" stroke="#00f2f2" stroke-width="3.8"/><text x="573" y="191.9" font-size="16">Zr<tspan font-size="11.8" dy="5.8">1</tspan><tspan dy="-5.8">-4d</tspan></text><line x1="523.1" y1="214.6" x2="556.3" y2="214.6" stroke="#000" stroke-width="3.8"/><text x="573" y="217.3" font-size="16">Zr<tspan font-size="11.8" dy="5.8">2</tspan><tspan dy="-5.8">-4d</tspan></text><line x1="523.1" y1="241.1" x2="556.3" y2="241.1" stroke="#ee0000" stroke-width="3.8"/><text x="573" y="243.8" font-size="16">O<tspan font-size="11.8" dy="5.8">1</tspan><tspan dy="-5.8">-2p</tspan></text><line x1="523.1" y1="266.4" x2="556.6" y2="266.4" stroke="#ee0000" stroke-width="3.2" stroke-dasharray="3 9.25"/><text x="573" y="269.1" font-size="16">O<tspan font-size="11.8" dy="5.8">2</tspan><tspan dy="-5.8">-2p</tspan></text>
<text x="351" y="628.2" font-size="60" font-weight="bold" text-anchor="middle">(b)</text>
<defs>
<radialGradient id="gGray" cx="0.5" cy="0.5" r="0.5" fx="0.5" fy="0.5">
 <stop offset="0" stop-color="#ffffff"/><stop offset="0.2" stop-color="#fdfdfd"/>
 <stop offset="0.38" stop-color="#d8d8d8"/><stop offset="0.62" stop-color="#b2b2b2"/>
 <stop offset="0.86" stop-color="#969696"/><stop offset="0.96" stop-color="#767676"/><stop offset="1" stop-color="#5e5e5e"/></radialGradient>
<radialGradient id="gRed" cx="0.5" cy="0.5" r="0.5" fx="0.52" fy="0.5">
 <stop offset="0" stop-color="#ffe0e0"/><stop offset="0.12" stop-color="#ff8a8a"/>
 <stop offset="0.3" stop-color="#ff1c1c"/><stop offset="0.55" stop-color="#ee0000"/>
 <stop offset="0.85" stop-color="#c40000"/><stop offset="1" stop-color="#7a0000"/></radialGradient>
<radialGradient id="gGreen" cx="0.5" cy="0.5" r="0.5" fx="0.55" fy="0.5">
 <stop offset="0" stop-color="#d0ffd0"/><stop offset="0.15" stop-color="#70f070"/>
 <stop offset="0.45" stop-color="#22d022"/><stop offset="0.8" stop-color="#10a810"/>
 <stop offset="1" stop-color="#066a06"/></radialGradient>
<radialGradient id="gYel" cx="0.5" cy="0.5" r="0.5" fx="0.55" fy="0.5">
 <stop offset="0" stop-color="#ffffb0"/><stop offset="0.3" stop-color="#f4f040"/>
 <stop offset="0.75" stop-color="#d8d000"/><stop offset="1" stop-color="#a09800"/></radialGradient>
<radialGradient id="gGrayB" cx="0.5" cy="0.5" r="0.5" fx="0.5" fy="0.5">
 <stop offset="0" stop-color="#ffffff"/><stop offset="0.2" stop-color="#fdfdfd"/>
 <stop offset="0.38" stop-color="#dedede"/><stop offset="0.62" stop-color="#bebebe"/>
 <stop offset="0.86" stop-color="#a4a4a4"/><stop offset="0.96" stop-color="#8a8a8a"/><stop offset="1" stop-color="#747474"/></radialGradient>
<radialGradient id="gRedB" cx="0.5" cy="0.5" r="0.5" fx="0.55" fy="0.5">
 <stop offset="0" stop-color="#ffd8d8"/><stop offset="0.14" stop-color="#ff7878"/>
 <stop offset="0.45" stop-color="#f42828"/><stop offset="0.8" stop-color="#d42020"/>
 <stop offset="1" stop-color="#a02020"/></radialGradient>
<radialGradient id="gGreenB" cx="0.5" cy="0.5" r="0.5" fx="0.55" fy="0.5">
 <stop offset="0" stop-color="#d8ffd8"/><stop offset="0.15" stop-color="#88f088"/>
 <stop offset="0.45" stop-color="#44d444"/><stop offset="0.8" stop-color="#30b030"/>
 <stop offset="1" stop-color="#208020"/></radialGradient>
<radialGradient id="gOr" cx="0.5" cy="0.5" r="0.5">
 <stop offset="0" stop-color="#ffb040"/><stop offset="0.6" stop-color="#f08020"/><stop offset="1" stop-color="#c86010"/></radialGradient>
<radialGradient id="gSlab" cx="0.58" cy="0.4" r="0.6" fx="0.6" fy="0.38">
 <stop offset="0" stop-color="#0036d6"/><stop offset="0.35" stop-color="#0048e8"/>
 <stop offset="0.58" stop-color="#0078fa"/><stop offset="0.72" stop-color="#00b0ff"/>
 <stop offset="0.8" stop-color="#00e8f4"/><stop offset="0.88" stop-color="#00f4e0"/>
 <stop offset="0.95" stop-color="#20f0a8"/><stop offset="1" stop-color="#38e888"/></radialGradient>
<linearGradient id="gYband" x1="0" y1="0" x2="0" y2="1">
 <stop offset="0" stop-color="#e4dc20"/><stop offset="0.3" stop-color="#dacd0a"/>
 <stop offset="0.7" stop-color="#cfc202"/><stop offset="1" stop-color="#b4aa00"/></linearGradient>
<linearGradient id="gYdome" x1="0" y1="0" x2="0" y2="1">
 <stop offset="0" stop-color="#b8b818"/><stop offset="0.1" stop-color="#cccc14"/>
 <stop offset="0.35" stop-color="#d8dc12"/><stop offset="0.8" stop-color="#d6da10"/><stop offset="1" stop-color="#c4c810"/></linearGradient>
<linearGradient id="gCyanSlab" x1="0" y1="0" x2="0" y2="1">
 <stop offset="0" stop-color="#30f0b0"/><stop offset="0.45" stop-color="#00f0f0"/>
 <stop offset="1" stop-color="#20d8ff"/></linearGradient>
<linearGradient id="gArrow" x1="0" y1="0" x2="1" y2="0">
 <stop offset="0" stop-color="#3a5a90"/><stop offset="1" stop-color="#2a4a80"/></linearGradient>
</defs>
<circle cx="303.5" cy="728.5" r="10.5" fill="url(#gRed)"/><circle cx="549.0" cy="725.5" r="10.5" fill="url(#gRed)"/><path d="M110.4,712 L132,708 L133,704.6 L145,697.2 L262,695.6 L262,703 L343,699.5 L390,696.8 L390,695.5 L508,695 L508,702 L580,699 L624.8,698.2 L624.8,739 C621,741 619,741 614,739 C609,737 606,735 603,731 C598,727 588,725 579,726 C568,727 558,728 545,731 C530,736 512,742 505,750 C500,752 497,748 490,746 L410,746 C400,750 396,754 392,753 C385,747 378,743 372.7,741.6 C366,737 360,732 353.7,729.8 C345,727 340,726 334.8,726.2 C325,727 318,730 311,731 C300,733 295,734 287.4,734.5 C278,736 270,737 263.7,739.2 C258,740 255,741 250,744 L175,762 L156.6,758.1 C151,756.5 148,755.5 144.8,754 C138,750 135,749 130.6,746.9 C125,744 121,743 118.7,741 C114,738 112,736 111.6,733.9 Z" fill="url(#gYband)"/>
<path d="M112,734 C118,742 135,750 152,756.5" stroke="#a09a00" stroke-width="2" fill="none" opacity="0.7"/><path d="M263.7,739.2 C290,734 320,728 335,726 C350,727 365,737 392,753" stroke="#a8a000" stroke-width="2" fill="none" opacity="0.6"/><path d="M505,750 C515,740 540,731 560,728 C580,725 598,728 606,736 C612,740 620,741 624,739" stroke="#a8a000" stroke-width="2" fill="none" opacity="0.6"/><ellipse cx="300" cy="716" rx="22" ry="9" fill="#ece440" opacity="0.3"/><ellipse cx="335" cy="713" rx="18" ry="8" fill="#ece440" opacity="0.3"/><ellipse cx="545" cy="714" rx="22" ry="9" fill="#ece440" opacity="0.3"/><ellipse cx="585" cy="712" rx="18" ry="8" fill="#ece440" opacity="0.3"/><ellipse cx="120" cy="725" rx="8" ry="10" fill="#ece440" opacity="0.3"/><rect x="165" y="697.5" width="50" height="5.5" fill="#b0c070" opacity="0.5"/><rect x="410" y="696" width="50" height="5.5" fill="#b0c070" opacity="0.5"/><polygon points="270,694.6 289,694.6 285,700.4 270,702" fill="#90e080" opacity="0.65"/><polygon points="513,694 535.5,694 530,701.3 513,702" fill="#90e080" opacity="0.65"/><defs><filter id="fbl" x="-0.1" y="-0.1" width="1.2" height="1.2"><feGaussianBlur stdDeviation="1.3"/></filter><radialGradient id="gCore" cx="0.58" cy="0.42" r="0.58"><stop offset="0" stop-color="#0044e0"/><stop offset="0.45" stop-color="#005af0"/><stop offset="0.75" stop-color="#0a80fc"/><stop offset="1" stop-color="#30b8ff"/></radialGradient><clipPath id="cslab1"><path d="M150.7,713.3 L246.7,712.4 C252.5,716.0 253.5,727.0 252.0,733.0 C249.0,750.0 238.0,759.0 220.0,764.0 C205.0,767.5 180.0,767.0 164.0,761.0 C153.0,755.0 148.0,742.0 148.0,725.0 C148.0,718.0 149.0,714.0 150.7,713.3 Z"/></clipPath><clipPath id="cslab2"><path d="M396.7,711.8 L492.7,710.9 C498.5,714.5 499.5,725.5 498.0,731.5 C495.0,748.5 484.0,757.5 466.0,762.5 C451.0,766.0 426.0,765.5 410.0,759.5 C399.0,753.5 394.0,740.5 394.0,723.5 C394.0,716.5 395.0,712.5 396.7,711.8 Z"/></clipPath></defs><path d="M150.7,713.3 L246.7,712.4 C252.5,716.0 253.5,727.0 252.0,733.0 C249.0,750.0 238.0,759.0 220.0,764.0 C205.0,767.5 180.0,767.0 164.0,761.0 C153.0,755.0 148.0,742.0 148.0,725.0 C148.0,718.0 149.0,714.0 150.7,713.3 Z" fill="#2ee894"/><g clip-path="url(#cslab1)"><g filter="url(#fbl)"><path d="M153.2,713.4 L244.4,712.6 C249.9,715.8 250.8,725.7 249.4,731.1 C246.6,746.4 236.1,754.5 219.0,759.0 C204.8,762.1 181.0,761.7 165.8,756.3 C155.3,750.9 150.6,739.2 150.6,723.9 C150.6,717.6 151.6,714.0 153.2,713.4 Z" fill="#00f2ee"/><path d="M156.9,713.4 L240.9,712.7 C245.9,715.6 246.8,724.4 245.5,729.2 C242.9,742.8 233.2,750.0 217.5,754.0 C204.4,756.8 182.5,756.4 168.5,751.6 C158.9,746.8 154.5,736.4 154.5,722.8 C154.5,717.2 155.4,714.0 156.9,713.4 Z" fill="url(#gCore)"/></g></g><path d="M396.7,711.8 L492.7,710.9 C498.5,714.5 499.5,725.5 498.0,731.5 C495.0,748.5 484.0,757.5 466.0,762.5 C451.0,766.0 426.0,765.5 410.0,759.5 C399.0,753.5 394.0,740.5 394.0,723.5 C394.0,716.5 395.0,712.5 396.7,711.8 Z" fill="#2ee894"/><g clip-path="url(#cslab2)"><g filter="url(#fbl)"><path d="M399.2,711.9 L490.4,711.1 C495.9,714.3 496.8,724.2 495.4,729.6 C492.6,744.9 482.1,753.0 465.0,757.5 C450.8,760.6 427.0,760.2 411.8,754.8 C401.4,749.4 396.6,737.7 396.6,722.4 C396.6,716.1 397.6,712.5 399.2,711.9 Z" fill="#00f2ee"/><path d="M402.9,711.9 L486.9,711.2 C491.9,714.1 492.8,722.9 491.5,727.7 C488.9,741.3 479.2,748.5 463.5,752.5 C450.4,755.3 428.5,754.9 414.5,750.1 C404.9,745.3 400.5,734.9 400.5,721.3 C400.5,715.7 401.4,712.5 402.9,711.9 Z" fill="url(#gCore)"/></g></g>
<g fill="none"><path d="M111.5,714.0 L111.5,733.0" stroke="#0a2cf0" stroke-width="2"/><path d="M113.0,714.0 L113.0,733.0" stroke="#00e0e0" stroke-width="1"/><path d="M115.0,714.0 L115.0,737.0" stroke="#0a2cf0" stroke-width="2"/><path d="M116.5,714.0 L116.5,737.0" stroke="#00e0e0" stroke-width="1"/><path d="M128.5,722.0 L128.5,742.0" stroke="#0a2cf0" stroke-width="2"/><path d="M130.0,722.0 L130.0,742.0" stroke="#00e0e0" stroke-width="1"/><path d="M132.5,706.0 L132.5,740.0" stroke="#0a2cf0" stroke-width="2"/><path d="M134.0,706.0 L134.0,740.0" stroke="#00e0e0" stroke-width="1"/><path d="M624.6,698.5 L624.6,739" stroke="#a0d040" stroke-width="1.5"/></g>
<path d="M145.0,698.5 L262.0,696.9" stroke="#10d8f0" stroke-width="1.2" fill="none" opacity="0.9"/><path d="M145.0,697.2 L262.0,695.6" stroke="#0a2cf0" stroke-width="2" fill="none"/><path d="M133.0,705.9 L262.0,704.1" stroke="#10d8f0" stroke-width="1.2" fill="none" opacity="0.9"/><path d="M133.0,704.6 L262.0,702.8" stroke="#0a2cf0" stroke-width="2" fill="none"/><path d="M262.0,704.3 L343.0,700.8 L400.0,698.6" stroke="#10d8f0" stroke-width="1.2" fill="none" opacity="0.9"/><path d="M262.0,703.0 L343.0,699.5 L400.0,697.3" stroke="#0a2cf0" stroke-width="2" fill="none"/><path d="M390.0,696.8 L508.0,696.3" stroke="#10d8f0" stroke-width="1.2" fill="none" opacity="0.9"/><path d="M390.0,695.5 L508.0,695.0" stroke="#0a2cf0" stroke-width="2" fill="none"/><path d="M392.0,705.8 L508.0,704.5" stroke="#10d8f0" stroke-width="1.2" fill="none" opacity="0.9"/><path d="M392.0,704.5 L508.0,703.2" stroke="#0a2cf0" stroke-width="2" fill="none"/><path d="M508.0,703.3 L580.0,700.3 L625.0,699.5" stroke="#10d8f0" stroke-width="1.2" fill="none" opacity="0.9"/><path d="M508.0,702.0 L580.0,699.0 L625.0,698.2" stroke="#0a2cf0" stroke-width="2" fill="none"/>
<circle cx="113.0" cy="698.0" r="15.8" fill="url(#gGrayB)"/><circle cx="131.0" cy="706.8" r="16.4" fill="url(#gGray)"/><circle cx="228.0" cy="693.0" r="15.5" fill="url(#gGrayB)"/><circle cx="244.6" cy="701.3" r="15.3" fill="url(#gGray)"/><circle cx="262.2" cy="710.5" r="16.3" fill="url(#gGray)"/><circle cx="359.3" cy="697.7" r="15.8" fill="url(#gGrayB)"/><circle cx="376.9" cy="706.8" r="16.4" fill="url(#gGray)"/><circle cx="473.7" cy="693.3" r="15.6" fill="url(#gGrayB)"/><circle cx="490.0" cy="701.0" r="15.2" fill="url(#gGray)"/><circle cx="508.1" cy="710.9" r="16.6" fill="url(#gGray)"/><circle cx="605.4" cy="697.0" r="15.8" fill="url(#gGrayB)"/><circle cx="622.6" cy="706.3" r="16.2" fill="url(#gGray)"/>
<defs><clipPath id="ctops"><circle cx="113.0" cy="698.0" r="15.8"/><circle cx="131.0" cy="706.8" r="16.4"/><circle cx="228.0" cy="693.0" r="15.5"/><circle cx="244.6" cy="701.3" r="15.3"/><circle cx="262.2" cy="710.5" r="16.3"/><circle cx="359.3" cy="697.7" r="15.8"/><circle cx="376.9" cy="706.8" r="16.4"/><circle cx="473.7" cy="693.3" r="15.6"/><circle cx="490.0" cy="701.0" r="15.2"/><circle cx="508.1" cy="710.9" r="16.6"/><circle cx="605.4" cy="697.0" r="15.8"/><circle cx="622.6" cy="706.3" r="16.2"/></clipPath></defs><g clip-path="url(#ctops)"><polygon points="147,712.5 262,711.3 347,708.1 390,706.5 390,711.8 508,711.5 580,708.4 625,707.6 625,760 147,760" fill="#e0d820" opacity="0.28"/></g>
<path d="M147.0,713.8 L262.0,712.6" stroke="#10d8f0" stroke-width="1.2" fill="none" opacity="0.9"/><path d="M147.0,712.5 L262.0,711.3" stroke="#0a2cf0" stroke-width="2" fill="none"/><path d="M262.0,712.5 L347.0,709.4 L400.0,707.5" stroke="#10d8f0" stroke-width="1.2" fill="none" opacity="0.9"/><path d="M262.0,711.2 L347.0,708.1 L400.0,706.2" stroke="#0a2cf0" stroke-width="2" fill="none"/><path d="M393.0,713.1 L508.0,712.8" stroke="#10d8f0" stroke-width="1.2" fill="none" opacity="0.9"/><path d="M393.0,711.8 L508.0,711.5" stroke="#0a2cf0" stroke-width="2" fill="none"/><path d="M508.0,712.1 L580.0,709.7 L625.0,709.1" stroke="#10d8f0" stroke-width="1.2" fill="none" opacity="0.9"/><path d="M508.0,710.8 L580.0,708.4 L625.0,707.8" stroke="#0a2cf0" stroke-width="2" fill="none"/>
<text x="16.8" y="698.3" font-size="23.8" font-weight="bold">Zr<tspan font-size="20.5" dx="-2.2" dy="9.6">1</tspan></text>
<path d="M32.6,680.6 C42,667 55,661.8 67,662 C77,662.2 85,665.5 91.5,670.5 L88.3,676.2 C82,671.5 75,668.8 67,668.5 C55,668.4 43,672 33.8,681.2 Z" fill="#2c4c86"/><path d="M83.5,682 L98.2,667.6 L100.5,683.5 Z" fill="#2c4c86"/>
<path d="M105.2,790.3 a4.5,6 0 0,1 0,12 a1.5,6 0 0,1 0,-12 Z" fill="#e0d820"/><path d="M105.2,790.3 a1.5,6 0 0,0 0,12" stroke="#10c8d8" stroke-width="1.2" fill="none"/><path d="M122.5,798.8 a4.5,6 0 0,1 0,12 a1.5,6 0 0,1 0,-12 Z" fill="#e0d820"/><path d="M122.5,798.8 a1.5,6 0 0,0 0,12" stroke="#10c8d8" stroke-width="1.2" fill="none"/><path d="M140.4,807.0 a4.5,6 0 0,1 0,12 a1.5,6 0 0,1 0,-12 Z" fill="#e0d820"/><path d="M140.4,807.0 a1.5,6 0 0,0 0,12" stroke="#10c8d8" stroke-width="1.2" fill="none"/><circle cx="125.2" cy="785.2" r="13.0" fill="url(#gRedB)"/><circle cx="142.6" cy="793.7" r="13.5" fill="url(#gRed)"/><circle cx="225.2" cy="784.0" r="15.5" fill="url(#gGreenB)"/><circle cx="254.8" cy="785.2" r="12.5" fill="url(#gRedB)"/><circle cx="242.6" cy="792.6" r="16.3" fill="url(#gGreen)"/><circle cx="270.7" cy="794.4" r="13.5" fill="url(#gRed)"/><circle cx="261.0" cy="800.0" r="5.5" fill="url(#gOr)"/><circle cx="337.0" cy="782.5" r="15.0" fill="url(#gGreenB)"/><circle cx="372.2" cy="782.5" r="12.0" fill="url(#gRedB)"/><circle cx="353.3" cy="790.6" r="16.0" fill="url(#gGreen)"/><circle cx="388.4" cy="793.3" r="13.0" fill="url(#gRed)"/><circle cx="370.6" cy="798.7" r="16.0" fill="url(#gGreen)"/><circle cx="469.5" cy="782.5" r="15.0" fill="url(#gGreenB)"/><circle cx="502.0" cy="782.5" r="12.0" fill="url(#gRedB)"/><circle cx="488.5" cy="790.6" r="16.0" fill="url(#gGreen)"/><circle cx="517.0" cy="794.3" r="13.0" fill="url(#gRed)"/><circle cx="583.0" cy="779.7" r="15.0" fill="url(#gGreenB)"/><circle cx="599.3" cy="789.0" r="16.0" fill="url(#gGreen)"/><circle cx="618.3" cy="797.6" r="16.0" fill="url(#gGreen)"/><circle cx="253.0" cy="804.8" r="7.7" fill="url(#gYel)" opacity="0.85"/><circle cx="342.5" cy="804.0" r="7.5" fill="url(#gYel)" opacity="0.85"/><circle cx="358.7" cy="810.6" r="8.0" fill="url(#gYel)" opacity="0.85"/><circle cx="379.2" cy="813.8" r="8.5" fill="url(#gYel)" opacity="0.85"/><circle cx="499.3" cy="804.0" r="7.5" fill="url(#gYel)" opacity="0.85"/><circle cx="585.8" cy="804.0" r="7.5" fill="url(#gYel)" opacity="0.85"/><circle cx="604.8" cy="810.6" r="8.0" fill="url(#gYel)" opacity="0.85"/><circle cx="623.7" cy="813.8" r="8.5" fill="url(#gYel)" opacity="0.85"/><circle cx="569.6" cy="792.2" r="5" fill="#a8f080" opacity="0.8"/><circle cx="323.6" cy="795" r="5" fill="#a8f080" opacity="0.8"/>
<circle cx="113.4" cy="867.9" r="15.5" fill="url(#gGrayB)"/><circle cx="130.8" cy="878.5" r="16.4" fill="url(#gGray)"/><circle cx="157.2" cy="847.7" r="12.3" fill="url(#gRedB)"/><circle cx="173.8" cy="856.3" r="12.8" fill="url(#gRed)"/><circle cx="190.4" cy="866.3" r="13.4" fill="url(#gRed)"/><circle cx="191.4" cy="888.0" r="12.8" fill="url(#gRedB)"/><circle cx="207.6" cy="898.0" r="13.4" fill="url(#gRed)"/><circle cx="226.7" cy="864.3" r="15.0" fill="url(#gGrayB)"/><circle cx="244.3" cy="872.9" r="15.8" fill="url(#gGray)"/><circle cx="261.0" cy="883.0" r="16.4" fill="url(#gGray)"/><circle cx="282.0" cy="847.7" r="12.3" fill="url(#gRedB)"/><circle cx="298.2" cy="856.3" r="12.8" fill="url(#gRed)"/><circle cx="316.4" cy="888.0" r="12.8" fill="url(#gRedB)"/><circle cx="332.6" cy="896.6" r="13.4" fill="url(#gRed)"/><circle cx="358.1" cy="868.5" r="15.5" fill="url(#gGrayB)"/><circle cx="377.0" cy="877.7" r="16.4" fill="url(#gGray)"/><circle cx="402.6" cy="848.0" r="12.3" fill="url(#gRedB)"/><circle cx="419.4" cy="856.8" r="12.8" fill="url(#gRed)"/><circle cx="436.3" cy="867.0" r="13.4" fill="url(#gRed)"/><circle cx="437.3" cy="889.0" r="12.8" fill="url(#gRedB)"/><circle cx="453.7" cy="897.7" r="13.4" fill="url(#gRed)"/><circle cx="473.0" cy="865.0" r="15.0" fill="url(#gGrayB)"/><circle cx="489.4" cy="873.7" r="15.8" fill="url(#gGray)"/><circle cx="507.8" cy="882.3" r="16.4" fill="url(#gGray)"/><circle cx="526.7" cy="848.0" r="12.3" fill="url(#gRedB)"/><circle cx="543.6" cy="856.8" r="12.8" fill="url(#gRed)"/><circle cx="562.5" cy="889.0" r="12.8" fill="url(#gRedB)"/><circle cx="579.4" cy="897.7" r="13.4" fill="url(#gRed)"/><circle cx="605.0" cy="868.5" r="15.5" fill="url(#gGrayB)"/><circle cx="622.3" cy="877.7" r="16.4" fill="url(#gGray)"/>
<text x="32" y="895.2" font-size="23.6" font-weight="bold">Zr<tspan font-size="19.4" dx="-2.8" dy="6.8">2</tspan></text>
<path d="M52.3,899.3 C60,908.5 72,913.2 85,913.4 C93,913.5 100,910 106.5,904.5 L110.8,909.8 C103,915.5 95,919.2 85,919.5 C70,919.6 58,911 53.2,899 Z" fill="#2c4c86"/><path d="M103.8,899.4 L119.6,913.6 L121.3,896.6 Z" fill="#2c4c86"/>
<circle cx="132.6" cy="936.7" r="7.4" fill="#b8f080"/><circle cx="378.5" cy="935.3" r="7" fill="#b8f080"/><circle cx="132.6" cy="957.0" r="15.0" fill="url(#gGreenB)"/><circle cx="152.2" cy="966.3" r="16.5" fill="url(#gGreen)"/><circle cx="218.9" cy="952.6" r="12.6" fill="url(#gRedB)"/><circle cx="247.4" cy="949.6" r="14.0" fill="url(#gGreen)"/><circle cx="235.6" cy="960.7" r="13.0" fill="url(#gRed)"/><circle cx="264.0" cy="962.6" r="16.5" fill="url(#gGreen)"/><circle cx="253.0" cy="968.9" r="13.3" fill="url(#gRed)"/><circle cx="347.9" cy="954.7" r="13.0" fill="url(#gRedB)"/><circle cx="381.0" cy="953.2" r="15.0" fill="url(#gGreenB)"/><circle cx="364.7" cy="963.4" r="13.3" fill="url(#gRed)"/><circle cx="398.0" cy="965.0" r="16.4" fill="url(#gGreen)"/><circle cx="465.4" cy="951.7" r="12.6" fill="url(#gRedB)"/><circle cx="493.5" cy="948.0" r="14.0" fill="url(#gGreen)"/><circle cx="482.3" cy="960.9" r="13.0" fill="url(#gRed)"/><circle cx="509.9" cy="963.4" r="16.5" fill="url(#gGreen)"/><circle cx="499.6" cy="969.6" r="13.3" fill="url(#gRed)"/><circle cx="593.2" cy="954.7" r="13.0" fill="url(#gRedB)"/><circle cx="610.0" cy="963.4" r="13.3" fill="url(#gRed)"/><circle cx="128.9" cy="942.2" r="7.8" fill="url(#gYel)" opacity="0.78"/><circle cx="149.3" cy="944.0" r="8.2" fill="url(#gYel)" opacity="0.78"/><circle cx="145.5" cy="949.6" r="7.8" fill="url(#gYel)" opacity="0.78"/><circle cx="166.0" cy="955.2" r="8.8" fill="url(#gYel)" opacity="0.78"/><circle cx="235.6" cy="942.2" r="6.8" fill="url(#gYel)" opacity="0.78"/><circle cx="253.0" cy="951.5" r="6.8" fill="url(#gYel)" opacity="0.78"/><circle cx="370.9" cy="941.5" r="7.8" fill="url(#gYel)" opacity="0.78"/><circle cx="391.3" cy="948.0" r="7.8" fill="url(#gYel)" opacity="0.78"/><circle cx="411.8" cy="954.7" r="8.8" fill="url(#gYel)" opacity="0.78"/><circle cx="482.3" cy="941.5" r="6.8" fill="url(#gYel)" opacity="0.78"/><circle cx="212.0" cy="955.0" r="6" fill="#f0a030" opacity="0.75"/><circle cx="229.0" cy="963.0" r="6" fill="#f0a030" opacity="0.75"/><circle cx="246.0" cy="971.0" r="6" fill="#f0a030" opacity="0.75"/><circle cx="459.0" cy="954.0" r="6" fill="#f0a030" opacity="0.75"/><circle cx="476.0" cy="963.0" r="6" fill="#f0a030" opacity="0.75"/><circle cx="493.0" cy="972.0" r="6" fill="#f0a030" opacity="0.75"/><path d="M613.6,937 a5,6 0 0,1 0,12 Z" fill="#d8d040"/><path d="M629.5,946 a4,6 0 0,1 0,12 a2,6 0 0,0 0,-12Z" fill="#d8d040"/>
<circle cx="251.9" cy="1043.3" r="13.5" fill="url(#gGray)"/><circle cx="356.1" cy="1051.1" r="14.0" fill="url(#gGray)"/><circle cx="483.3" cy="1048.9" r="14.0" fill="url(#gGray)"/><circle cx="600.8" cy="1046.3" r="14.0" fill="url(#gGray)"/><path transform="translate(0.0,0)" d="M115.7,1007.8 C125,1012 130,1014 135.8,1016 C142,1019 147,1021 152.4,1020.8 C162,1020 170,1019 176,1018.4 C188,1015 196,1011 204.5,1009 C212,1007.5 218,1007 223.5,1007.8 C230,1009 234,1011 237.7,1011.3 C246,1011 252,1010 256.7,1010.1 C262,1008 266,1005 270,1003 L270,1052 L150,1055.2 L133.4,1050.4 L118,1045 Z" fill="#d2d22a" opacity="0.92"/><path transform="translate(246.0,0)" d="M115.7,1007.8 C125,1012 130,1014 135.8,1016 C142,1019 147,1021 152.4,1020.8 C162,1020 170,1019 176,1018.4 C188,1015 196,1011 204.5,1009 C212,1007.5 218,1007 223.5,1007.8 C230,1009 234,1011 237.7,1011.3 C246,1011 252,1010 256.7,1010.1 C262,1008 266,1005 270,1003 L270,1052 L150,1055.2 L133.4,1050.4 L118,1045 Z" fill="#d2d22a" opacity="0.92"/><g transform="translate(0,0)" fill="none" stroke="#a8a018" stroke-width="1.4" opacity="0.75"><path d="M136,1017 C150,1028 165,1032 180,1030 C200,1027 220,1022 240,1024 C250,1026 256,1030 262,1036"/><path d="M120,1012 C125,1025 128,1035 133,1045"/><path d="M212,1040 C225,1036 240,1032 255,1030"/></g><g transform="translate(246,0)" fill="none" stroke="#a8a018" stroke-width="1.4" opacity="0.75"><path d="M136,1017 C150,1028 165,1032 180,1030 C200,1027 220,1022 240,1024 C250,1026 256,1030 262,1036"/><path d="M120,1012 C125,1025 128,1035 133,1045"/><path d="M212,1040 C225,1036 240,1032 255,1030"/></g><defs><clipPath id="cb"><rect x="0" y="980" width="626.4" height="97"/></clipPath></defs><g clip-path="url(#cb)"><g transform="translate(0.0,0)"><path d="M252,1051 C251,1034 254,1022 260,1012 C270,999 292,991.5 322,990.5 C344,990.5 356,996 364,1003 C376,1010 386,1018 391,1030 C393,1039 392,1046 390,1051 Z" fill="url(#gYdome)" opacity="0.96"/><path d="M270.8,1026 C274,1015 287,1006 311,1000 C326,997 346,997 363,1003.7 C372,1008 380,1014 386.9,1020.3" stroke="#a8a018" stroke-width="1.4" fill="none" opacity="0.8"/><path d="M262,1040 C270,1034 280,1032 300,1030 C330,1028 360,1030 380,1036" stroke="#c0b828" stroke-width="1.2" fill="none" opacity="0.7"/><ellipse cx="322" cy="1020" rx="42" ry="16" fill="#e0e420" opacity="0.5"/></g><g transform="translate(246.0,0)"><path d="M252,1051 C251,1034 254,1022 260,1012 C270,999 292,991.5 322,990.5 C344,990.5 356,996 364,1003 C376,1010 386,1018 391,1030 C393,1039 392,1046 390,1051 Z" fill="url(#gYdome)" opacity="0.96"/><path d="M270.8,1026 C274,1015 287,1006 311,1000 C326,997 346,997 363,1003.7 C372,1008 380,1014 386.9,1020.3" stroke="#a8a018" stroke-width="1.4" fill="none" opacity="0.8"/><path d="M262,1040 C270,1034 280,1032 300,1030 C330,1028 360,1030 380,1036" stroke="#c0b828" stroke-width="1.2" fill="none" opacity="0.7"/><ellipse cx="322" cy="1020" rx="42" ry="16" fill="#e0e420" opacity="0.5"/></g></g><path d="M626.4,1005 L626.4,1051.4" stroke="#a8c840" stroke-width="1.3"/><ellipse cx="250.7" cy="1042.8" rx="3" ry="4" fill="#707060"/><ellipse cx="496.7" cy="1042.8" rx="3" ry="4" fill="#707060"/><circle cx="189.1" cy="1019.6" r="10.7" fill="url(#gRed)"/><circle cx="185.9" cy="1023.4" r="5.3" fill="#f09020" opacity="0.7"/><circle cx="206.9" cy="1029.1" r="11.8" fill="url(#gRed)"/><circle cx="203.7" cy="1032.9" r="5.9" fill="#f09020" opacity="0.7"/><circle cx="434.8" cy="1020.8" r="10.7" fill="url(#gRed)"/><circle cx="431.6" cy="1024.6" r="5.3" fill="#f09020" opacity="0.7"/><circle cx="452.6" cy="1030.0" r="11.8" fill="url(#gRed)"/><circle cx="449.4" cy="1033.8" r="5.9" fill="#f09020" opacity="0.7"/><path d="M206,1010 C215,1003 230,1001 240,1004 C236,1010 225,1012 210,1014 Z" fill="#a0e060" opacity="0.6"/><path d="M452,1010 C461,1003 476,1001 486,1004 C482,1010 471,1012 456,1014 Z" fill="#a0e060" opacity="0.6"/><path transform="translate(0.0,0)" d="M150,1055.2 C152,1050 155,1046 159.5,1044.5 C166,1041 172,1040 176,1039.8 C186,1039.5 194,1040 199.8,1041 C210,1043 218,1045 223.5,1046.9 C232,1050 240,1053 244.8,1055.2 Z" fill="url(#gCyanSlab)"/><path transform="translate(246.0,0)" d="M150,1055.2 C152,1050 155,1046 159.5,1044.5 C166,1041 172,1040 176,1039.8 C186,1039.5 194,1040 199.8,1041 C210,1043 218,1045 223.5,1046.9 C232,1050 240,1053 244.8,1055.2 Z" fill="url(#gCyanSlab)"/><path d="M133,1054.8 L626.4,1051.6" stroke="#80d070" stroke-width="1.3" fill="none"/><path d="M115.0,1008.0 L115.0,1044.0" stroke="#0a2cf0" stroke-width="2.2"/><path d="M116.0,1008.0 C119.0,1011.0 120.0,1018.0 120.0,1039.0" stroke="#00e0d0" stroke-width="1.2" fill="none"/><path d="M131.5,1016.0 L131.5,1050.0" stroke="#0a2cf0" stroke-width="2.2"/><path d="M132.5,1016.0 C135.5,1019.0 136.5,1026.0 136.5,1045.0" stroke="#00e0d0" stroke-width="1.2" fill="none"/><circle cx="110.9" cy="1042.5" r="15.3" fill="url(#gGray)"/><circle cx="128.5" cy="1050.4" r="15.2" fill="url(#gGray)"/><circle cx="261.3" cy="1060.6" r="15.4" fill="url(#gGray)"/><circle cx="376.3" cy="1055.8" r="15.4" fill="url(#gGray)"/><circle cx="506.3" cy="1056.5" r="16.0" fill="url(#gGray)"/><circle cx="621.3" cy="1048.9" r="16.0" fill="url(#gGray)"/><defs><clipPath id="cbots"><circle cx="261.3" cy="1060.6" r="15.4"/><circle cx="376.3" cy="1055.8" r="15.4"/><circle cx="506.3" cy="1056.5" r="16.0"/><circle cx="621.3" cy="1048.9" r="16.0"/></clipPath></defs><g clip-path="url(#cbots)"><polygon points="240,1000 627,1000 627,1051.6 240,1054.6" fill="#dcd430" opacity="0.6"/></g><path d="M133,1054.8 L626.4,1051.6" stroke="#80d070" stroke-width="1.3" fill="none"/>
<g><rect x="13.6" y="1006" width="4" height="38" fill="#1010d0"/><rect x="15" y="1006" width="1.2" height="38" fill="#6060ff"/><path d="M8.8,1008 L22.7,1008 L15.6,988.8 Z" fill="#0a0ae0"/><rect x="22" y="1044.7" width="33" height="4" fill="#10c010"/><rect x="22" y="1046" width="33" height="1.2" fill="#80ff80"/><path d="M54,1040.3 L54,1053.2 L73,1046.7 Z" fill="#10d010"/><circle cx="14" cy="1047" r="6.6" fill="#a8a8a8"/><circle cx="17.3" cy="1047.5" r="6.9" fill="#8a0808"/><text x="17" y="1054" font-size="15" font-weight="bold" class="sans">a</text><text x="81" y="1052" font-size="16" font-weight="bold" class="sans">b</text><text x="12.3" y="981.8" font-size="16" font-weight="bold" class="sans">c</text></g>
</svg>
</body></html>
